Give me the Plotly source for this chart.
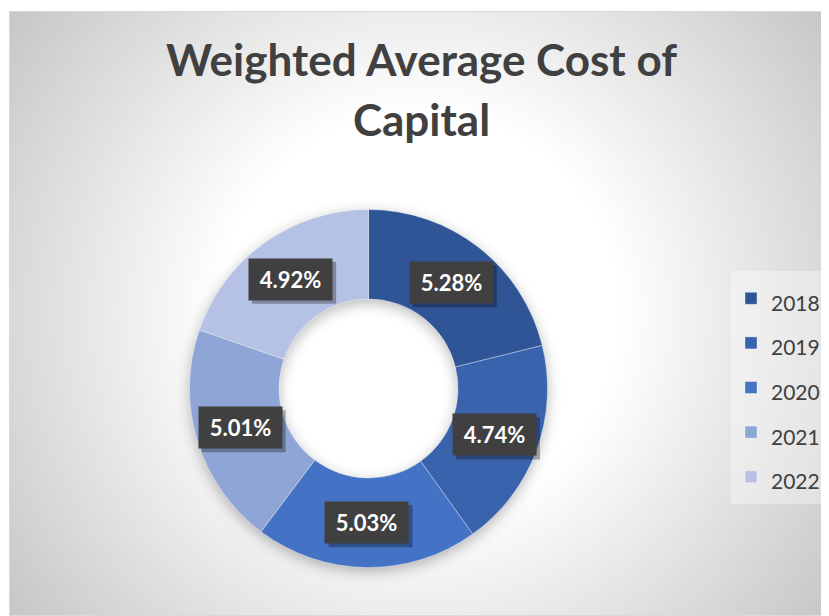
import base64
import math
import plotly.graph_objects as go

# ---------------- data ----------------
years = ["2018", "2019", "2020", "2021", "2022"]
wacc = [5.28, 4.74, 5.03, 5.01, 4.92]          # percent
value_labels = ["5.28%", "4.74%", "5.03%", "5.01%", "4.92%"]
colors = ["#2F5597", "#3A63AE", "#4472C4", "#8FA5D6", "#B6C2E5"]
title_lines = ["Weighted Average Cost of", "Capital"]

# ---------------- layout geometry ----------------
# the page body has an 8px margin, so the figure starts at page (8, 8)
OFF = 8
W, H = 829 - OFF, 616 - OFF


def fx(page_x):
    return (page_x - OFF) / W


def fy(page_y):
    return 1 - (page_y - OFF) / H


AX0, AY0 = 9, 11            # chart area top-left in page pixels
CX, CY, R = 368.5, 388.5, 179.0
HOLE = 0.5

dom_x = [fx(CX - R), fx(CX + R)]
dom_y = [fy(CY + R), fy(CY - R)]

# ---------------- background: radial gradient + soft ring shadow ----------------
bw, bh = 829 - AX0, 616 - AY0
gcx, gcy = bw / 2, bh / 2
gr = math.hypot(gcx, gcy)
pcx, pcy = CX - AX0, CY - AY0 + 4
ri = R * HOLE
ring = (f"M{pcx - R},{pcy} a{R},{R} 0 1,0 {2*R},0 a{R},{R} 0 1,0 {-2*R},0 Z "
        f"M{pcx - ri},{pcy} a{ri},{ri} 0 1,1 {2*ri},0 a{ri},{ri} 0 1,1 {-2*ri},0 Z")
svg = f'''<svg xmlns="http://www.w3.org/2000/svg" width="{bw}" height="{bh}" viewBox="0 0 {bw} {bh}" preserveAspectRatio="none">
<defs>
<radialGradient id="g" gradientUnits="userSpaceOnUse" cx="{gcx}" cy="{gcy}" r="{gr}">
<stop offset="0" stop-color="#ffffff"/>
<stop offset="0.39" stop-color="#ffffff"/>
<stop offset="1" stop-color="#c6c6c6"/>
</radialGradient>
<filter id="b" x="-20%" y="-20%" width="140%" height="140%"><feGaussianBlur stdDeviation="7"/></filter>
</defs>
<rect x="0" y="0" width="{bw}" height="{bh}" fill="url(#g)"/>
<rect x="0.5" y="0.5" width="{bw-1}" height="{bh-1}" fill="none" stroke="#d9d9d9" stroke-width="1"/>
<path d="{ring}" fill="rgba(0,0,0,0.28)" fill-rule="evenodd" filter="url(#b)"/>
</svg>'''
svg_uri = "data:image/svg+xml;base64," + base64.b64encode(svg.encode()).decode()

# ---------------- figure ----------------
legend_names = [f"<span style='font-size:21px'>{y}</span>" for y in years]

fig = go.Figure(go.Pie(
    labels=legend_names,
    values=wacc,
    hole=HOLE,
    sort=False,
    direction="clockwise",
    rotation=0,
    marker=dict(colors=colors, line=dict(color="rgba(255,255,255,0.45)", width=0.8)),
    textinfo="none",
    hoverinfo="skip",
    domain=dict(x=dom_x, y=dom_y),
))

# data labels at the middle of each ring segment, computed from the values
total = sum(wacc)
rmid = R * (1 + HOLE) / 2
annotations, shapes = [], []
BOX_W, BOX_H = 83, 41
cum = 0.0
for v, lab in zip(wacc, value_labels):
    mid = (cum + v / 2) / total * 2 * math.pi
    cum += v
    px = CX + rmid * math.sin(mid)
    py = CY - rmid * math.cos(mid)
    # soft drop shadow behind the label box
    shapes.append(dict(type="rect", xref="paper", yref="paper", layer="above",
                       xsizemode="pixel", ysizemode="pixel", xanchor=fx(px), yanchor=fy(py),
                       x0=-BOX_W / 2 + 3, x1=BOX_W / 2 + 4, y0=-BOX_H / 2 - 4, y1=BOX_H / 2 - 3,
                       fillcolor="rgba(0,0,0,0.30)", line=dict(width=0)))
    annotations.append(dict(x=fx(px), y=fy(py), xref="paper", yref="paper", showarrow=False,
                            text=lab, width=BOX_W - 12, height=BOX_H - 12, borderpad=6,
                            xanchor="center", yanchor="middle", bgcolor="#404040",
                            font=dict(family="Lato", size=22, color="#ffffff", weight="bold")))

title_text = "<br>".join(f"<span style='font-size:44px'>{t}</span>" for t in title_lines)

fig.update_layout(
    width=W, height=H,
    margin=dict(l=0, r=0, t=0, b=0),
    paper_bgcolor="#ffffff",
    plot_bgcolor="rgba(0,0,0,0)",
    title=dict(text=title_text, x=fx(421.5), xanchor="center", y=fy(76), yanchor="top",
               font=dict(family="Lato", size=46, color="#404040", weight="bold")),
    showlegend=True,
    legend=dict(x=fx(731), xanchor="left", y=fy(271), yanchor="top",
                bgcolor="rgba(255,255,255,0.35)", borderwidth=0,
                font=dict(family="Lato", size=32, color="#404040"),
                itemclick=False, itemdoubleclick=False),
    images=[dict(source=svg_uri, xref="paper", yref="paper", x=fx(AX0), y=fy(AY0),
                 sizex=bw / W, sizey=bh / H, xanchor="left", yanchor="top",
                 sizing="stretch", layer="below")],
    annotations=annotations,
    shapes=shapes,
)

fig.write_html("out.html")
